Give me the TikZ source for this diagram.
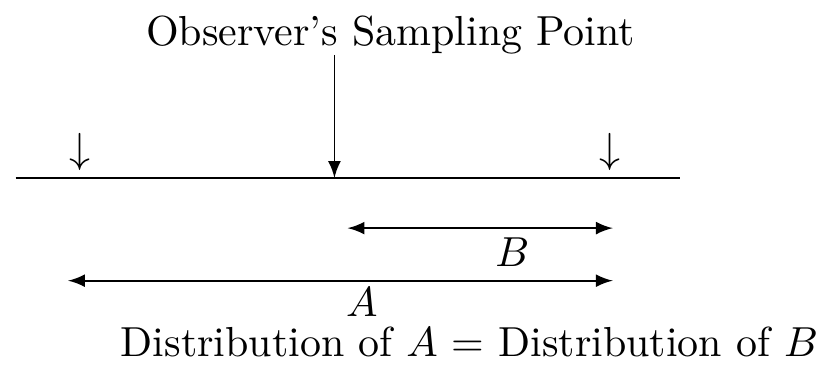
\documentclass[tikz,border=0pt]{standalone}
\begin{document}
\begin{tikzpicture}[>=latex, span/.style={<->}, tick/.style={inner sep=0pt}]
			\useasboundingbox (0, 0) rectangle (6.89, 3.13);
			\draw (0.13, 1.64) -- (5.69, 1.64);
			\node (obs) at (3.27, 2.84) {Observer's Sampling Point};
			
			\coordinate (samptop) at (2.80, 2.67);
			\coordinate (samp) at (2.80, 1.64);
			\draw[->] (samptop) -- (samp);
			
			\node[tick] (left) at (0.67, 1.86) {$\downarrow$};
			\node[tick] (right) at (5.11, 1.86) {$\downarrow$};
			
			\coordinate (bL) at (2.91, 1.22);
			\coordinate (bR) at (5.13, 1.22);
			\draw[span] (bL) -- (bR);
			\node (B) at (4.29, 1.02) {$B$};
			
			\coordinate (aL) at (0.57, 0.78);
			\coordinate (aR) at (5.13, 0.78);
			\draw[span] (aL) -- (aR);
			\node (A) at (3.03, 0.60) {$A$};
			
			\node (dist) at (3.93, 0.27) {Distribution of $A$ = Distribution of $B$};
		\end{tikzpicture}
\end{document}
